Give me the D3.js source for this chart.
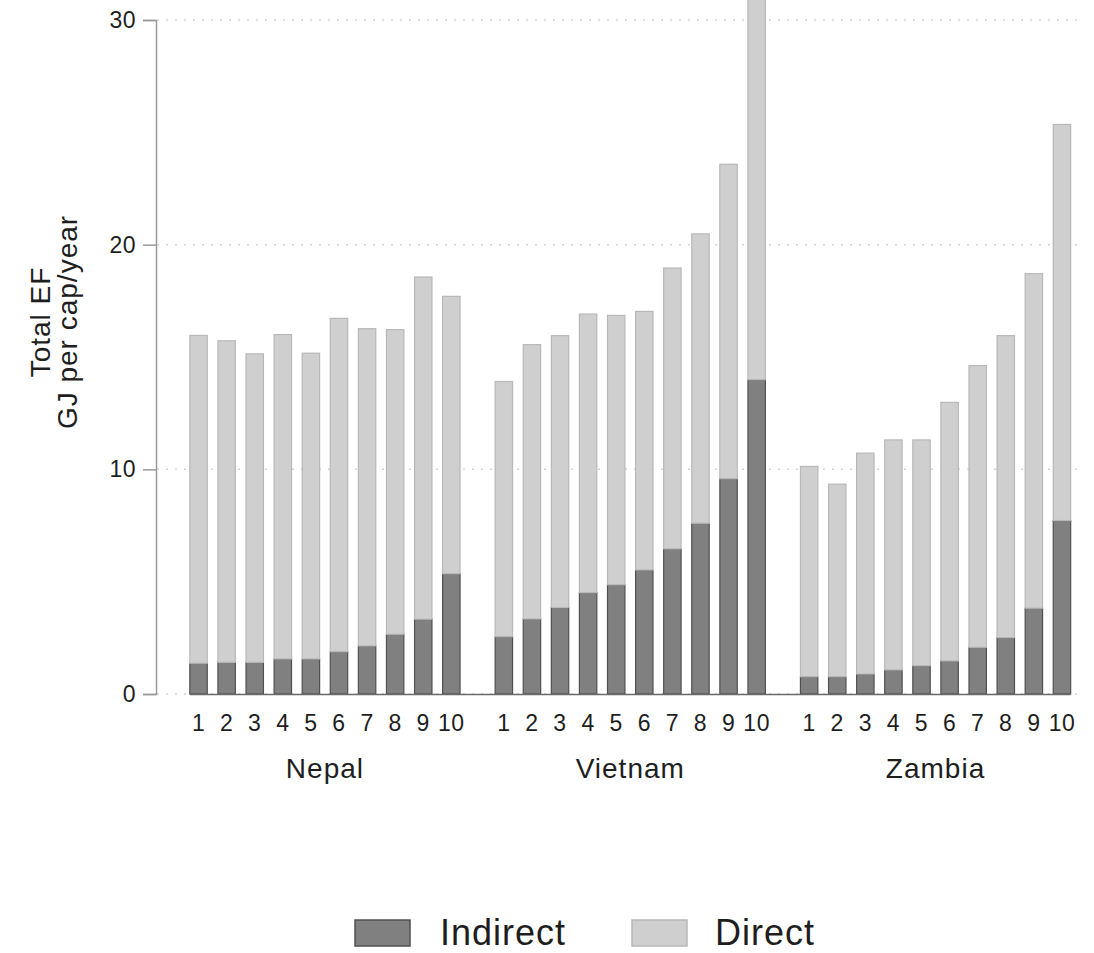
<!DOCTYPE html>
<html>
<head>
<meta charset="utf-8">
<script src="https://cdn.jsdelivr.net/npm/d3@7"></script>
<style>
  body { margin: 0; background: #fff; }
  svg { font-family: "Liberation Sans", Arial, sans-serif; }
</style>
</head>
<body>
<div id="chart"></div>
<script>
// Data
const countries = ["Nepal", "Vietnam", "Zambia"];
const deciles = ["1", "2", "3", "4", "5", "6", "7", "8", "9", "10"];
const series = ["Indirect", "Direct"];
const yTicks = [0, 10, 20, 30];

// total footprint per decile
const nepalTotal   = [15.96, 15.72, 15.14, 16.0, 15.17, 16.72, 16.26, 16.22, 18.56, 17.7];
const vietnamTotal = [13.91, 15.55, 15.95, 16.91, 16.85, 17.03, 18.96, 20.48, 23.58, 32.5];
const zambiaTotal  = [10.13, 9.34, 10.72, 11.31, 11.31, 12.98, 14.62, 15.95, 18.71, 25.35];

// indirect part per decile
const nepalIndirect   = [1.37, 1.41, 1.41, 1.56, 1.56, 1.88, 2.14, 2.66, 3.33, 5.35];
const vietnamIndirect = [2.55, 3.34, 3.85, 4.51, 4.86, 5.52, 6.46, 7.6, 9.58, 13.99];
const zambiaIndirect  = [0.77, 0.77, 0.89, 1.07, 1.26, 1.47, 2.08, 2.51, 3.82, 7.72];

const totals = {Nepal: nepalTotal, Vietnam: vietnamTotal, Zambia: zambiaTotal};
const indirects = {Nepal: nepalIndirect, Vietnam: vietnamIndirect, Zambia: zambiaIndirect};

const rows = [];
countries.forEach(c => {
    deciles.forEach((d, i) => {
        rows.push({country: c, decile: d, Indirect: indirects[c][i], Direct: totals[c][i] - indirects[c][i]});
    });
});

const W = 1094, H = 953;
const svg = d3.select("#chart").append("svg")
    .attr("width", W)
    .attr("height", H);

// Scales
const y = d3.scaleLinear()
    .domain([0, 30])
    .range([694, 20]);

const xGroup = d3.scaleBand()
    .domain(countries)
    .range([184.5, 1076])
    .paddingInner(0.08)
    .paddingOuter(0);

const xBar = d3.scaleBand()
    .domain(deciles)
    .range([0, xGroup.bandwidth()])
    .paddingInner(0.38)
    .paddingOuter(0.19);

const color = d3.scaleOrdinal()
    .domain(series)
    .range(["#808080", "#cfcfcf"]);
const stroke = d3.scaleOrdinal()
    .domain(series)
    .range(["#505050", "#b8b8b8"]);

// Dotted grid lines
svg.append("g")
    .selectAll("line")
    .data(yTicks)
    .join("line")
    .attr("x1", 157)
    .attr("x2", 1080)
    .attr("y1", d => y(d))
    .attr("y2", d => y(d))
    .attr("stroke", "#d4d4d4")
    .attr("stroke-width", 1.5)
    .attr("stroke-dasharray", "2,7");

// Y axis
const yAxis = d3.axisLeft(y)
    .tickValues(yTicks)
    .tickSize(13)
    .tickPadding(7);

const yAxisGroup = svg.append("g")
    .attr("transform", "translate(156,0)")
    .call(yAxis);
yAxisGroup.select(".domain").attr("stroke", "#9a9a9a").attr("stroke-width", 1.5);
yAxisGroup.selectAll(".tick line").attr("stroke", "#9a9a9a").attr("stroke-width", 1.5);
yAxisGroup.selectAll("text")
    .attr("font-size", 23)
    .attr("letter-spacing", 0.5)
    .attr("fill", "#1e1e1e");

// Stacked bars
const stackedData = d3.stack().keys(series)(rows);

const barsGroup = svg.append("g");
barsGroup.selectAll("g")
    .data(stackedData)
    .join("g")
    .attr("fill", d => color(d.key))
    .attr("stroke", d => stroke(d.key))
    .attr("stroke-width", 1.2)
    .selectAll("rect")
    .data(d => d)
    .join("rect")
    .attr("x", d => xGroup(d.data.country) + xBar(d.data.decile))
    .attr("y", d => y(d[1]))
    .attr("height", d => y(d[0]) - y(d[1]))
    .attr("width", xBar.bandwidth());

// Baseline under the bars
svg.append("line")
    .attr("x1", xGroup("Nepal") + xBar("1"))
    .attr("x2", xGroup("Zambia") + xBar("10") + xBar.bandwidth())
    .attr("y1", y(0) + 0.5)
    .attr("y2", y(0) + 0.5)
    .attr("stroke", "#6a6a6a")
    .attr("stroke-width", 1.5);

// Decile labels and country labels
countries.forEach(c => {
    const g = svg.append("g")
        .attr("transform", `translate(${xGroup(c)},0)`);
    g.selectAll("text")
        .data(deciles)
        .join("text")
        .attr("x", d => xBar(d) + xBar.bandwidth() / 2)
        .attr("y", 731)
        .attr("text-anchor", "middle")
        .attr("font-size", 23)
        .attr("letter-spacing", 0.5)
        .attr("fill", "#1e1e1e")
        .text(d => d);
    g.append("text")
        .attr("x", xGroup.bandwidth() / 2)
        .attr("y", 778)
        .attr("text-anchor", "middle")
        .attr("font-size", 28)
        .attr("letter-spacing", 1)
        .attr("fill", "#1e1e1e")
        .text(c);
});

// Y axis title
const yTitle = svg.append("text")
    .attr("transform", "translate(50,322) rotate(-90)")
    .attr("text-anchor", "middle")
    .attr("font-size", 28)
    .attr("letter-spacing", 1)
    .attr("fill", "#1e1e1e");
yTitle.append("tspan").attr("x", 0).attr("dy", 0).text("Total EF");
yTitle.append("tspan").attr("x", 0).attr("dy", 27).text("GJ per cap/year");

// Legend
const legendX = [355, 632];
const legend = svg.append("g")
    .selectAll("g")
    .data(series)
    .join("g")
    .attr("transform", (d, i) => `translate(${legendX[i]},920)`);
legend.append("rect")
    .attr("width", 55)
    .attr("height", 26)
    .attr("fill", d => color(d))
    .attr("stroke", d => stroke(d))
    .attr("stroke-width", 1.5);
legend.append("text")
    .attr("x", (d, i) => i === 0 ? 85 : 83)
    .attr("y", 25)
    .attr("font-size", 36)
    .attr("letter-spacing", 1)
    .attr("fill", "#1e1e1e")
    .text(d => d);
</script>
</body>
</html>
